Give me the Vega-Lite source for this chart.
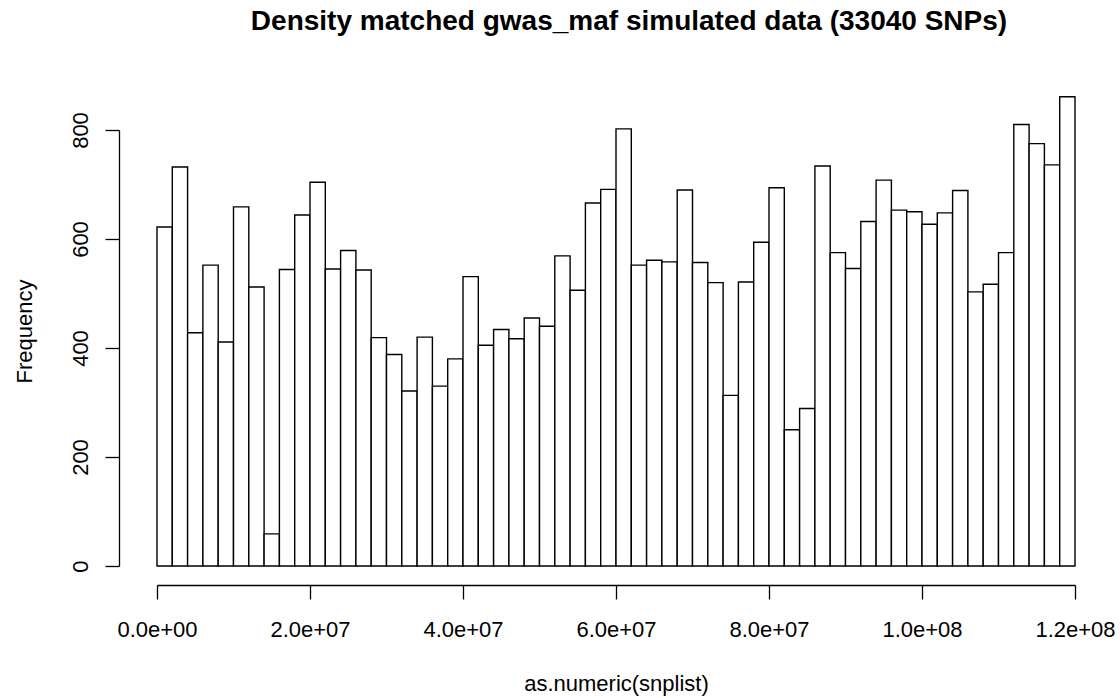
{
  "$schema": "https://vega.github.io/schema/vega-lite/v6.json",
  "width": 918,
  "height": 436,
  "autosize": {"type": "none"},
  "padding": {"left": 157, "top": 130, "right": 45, "bottom": 132},
  "background": "white",
  "title": {
    "text": "Density matched gwas_maf simulated data (33040 SNPs)",
    "font": "Liberation Sans",
    "fontSize": 28,
    "fontWeight": "bold",
    "color": "black",
    "anchor": "middle",
    "baseline": "alphabetic",
    "offset": 38,
    "dx": 13
  },
  "data": {
    "values": [
      {"start": 0, "end": 2000000, "count": 622},
      {"start": 2000000, "end": 4000000, "count": 732},
      {"start": 4000000, "end": 6000000, "count": 428},
      {"start": 6000000, "end": 8000000, "count": 552},
      {"start": 8000000, "end": 10000000, "count": 411},
      {"start": 10000000, "end": 12000000, "count": 659},
      {"start": 12000000, "end": 14000000, "count": 512},
      {"start": 14000000, "end": 16000000, "count": 59},
      {"start": 16000000, "end": 18000000, "count": 544},
      {"start": 18000000, "end": 20000000, "count": 644},
      {"start": 20000000, "end": 22000000, "count": 704},
      {"start": 22000000, "end": 24000000, "count": 545},
      {"start": 24000000, "end": 26000000, "count": 579},
      {"start": 26000000, "end": 28000000, "count": 543},
      {"start": 28000000, "end": 30000000, "count": 419},
      {"start": 30000000, "end": 32000000, "count": 388},
      {"start": 32000000, "end": 34000000, "count": 321},
      {"start": 34000000, "end": 36000000, "count": 420},
      {"start": 36000000, "end": 38000000, "count": 330},
      {"start": 38000000, "end": 40000000, "count": 380},
      {"start": 40000000, "end": 42000000, "count": 531},
      {"start": 42000000, "end": 44000000, "count": 405},
      {"start": 44000000, "end": 46000000, "count": 434},
      {"start": 46000000, "end": 48000000, "count": 417},
      {"start": 48000000, "end": 50000000, "count": 455},
      {"start": 50000000, "end": 52000000, "count": 440},
      {"start": 52000000, "end": 54000000, "count": 569},
      {"start": 54000000, "end": 56000000, "count": 506},
      {"start": 56000000, "end": 58000000, "count": 666},
      {"start": 58000000, "end": 60000000, "count": 691},
      {"start": 60000000, "end": 62000000, "count": 802},
      {"start": 62000000, "end": 64000000, "count": 552},
      {"start": 64000000, "end": 66000000, "count": 561},
      {"start": 66000000, "end": 68000000, "count": 558},
      {"start": 68000000, "end": 70000000, "count": 690},
      {"start": 70000000, "end": 72000000, "count": 557},
      {"start": 72000000, "end": 74000000, "count": 520},
      {"start": 74000000, "end": 76000000, "count": 313},
      {"start": 76000000, "end": 78000000, "count": 521},
      {"start": 78000000, "end": 80000000, "count": 594},
      {"start": 80000000, "end": 82000000, "count": 694},
      {"start": 82000000, "end": 84000000, "count": 250},
      {"start": 84000000, "end": 86000000, "count": 289},
      {"start": 86000000, "end": 88000000, "count": 734},
      {"start": 88000000, "end": 90000000, "count": 575},
      {"start": 90000000, "end": 92000000, "count": 546},
      {"start": 92000000, "end": 94000000, "count": 632},
      {"start": 94000000, "end": 96000000, "count": 708},
      {"start": 96000000, "end": 98000000, "count": 653},
      {"start": 98000000, "end": 100000000, "count": 650},
      {"start": 100000000, "end": 102000000, "count": 627},
      {"start": 102000000, "end": 104000000, "count": 648},
      {"start": 104000000, "end": 106000000, "count": 689},
      {"start": 106000000, "end": 108000000, "count": 503},
      {"start": 108000000, "end": 110000000, "count": 517},
      {"start": 110000000, "end": 112000000, "count": 575},
      {"start": 112000000, "end": 114000000, "count": 810},
      {"start": 114000000, "end": 116000000, "count": 775},
      {"start": 116000000, "end": 118000000, "count": 736},
      {"start": 118000000, "end": 120000000, "count": 861}
    ]
  },
  "mark": {
    "type": "bar",
    "fill": "white",
    "stroke": "black",
    "strokeWidth": 1.4,
    "opacity": 1
  },
  "encoding": {
    "x": {
      "field": "start",
      "type": "quantitative",
      "scale": {"domain": [0, 120000000], "nice": false, "zero": false},
      "axis": {
        "title": "as.numeric(snplist)",
        "values": [0, 20000000, 40000000, 60000000, 80000000, 100000000, 120000000],
        "labelExpr": "replace(format(datum.value, '.1e'), 'e+', 'e+0')",
        "offset": 19,
        "grid": false,
        "domainColor": "black",
        "domainWidth": 1.3,
        "tickColor": "black",
        "tickWidth": 1.3,
        "tickSize": 14,
        "labelFont": "Liberation Sans",
        "labelFontSize": 22,
        "labelColor": "black",
        "labelPadding": 20,
        "labelFlush": false,
        "labelOverlap": false,
        "titleFont": "Liberation Sans",
        "titleFontSize": 22,
        "titleFontWeight": "normal",
        "titleColor": "black",
        "titleBaseline": "alphabetic",
        "titleY": 105
      }
    },
    "x2": {"field": "end"},
    "y": {
      "field": "count",
      "type": "quantitative",
      "scale": {"domain": [0, 800], "nice": false},
      "axis": {
        "title": "Frequency",
        "values": [0, 200, 400, 600, 800],
        "offset": 38,
        "grid": false,
        "domainColor": "black",
        "domainWidth": 1.3,
        "tickColor": "black",
        "tickWidth": 1.3,
        "tickSize": 14,
        "labelAngle": 270,
        "labelAlign": "center",
        "labelBaseline": "alphabetic",
        "labelFont": "Liberation Sans",
        "labelFontSize": 22,
        "labelColor": "black",
        "labelPadding": 18,
        "labelFlush": false,
        "labelOverlap": false,
        "titleFont": "Liberation Sans",
        "titleFontSize": 22,
        "titleFontWeight": "normal",
        "titleColor": "black",
        "titleAngle": 270,
        "titleAlign": "center",
        "titleBaseline": "alphabetic",
        "titleX": -88,
        "titleY": 201
      }
    },
    "y2": {"datum": 0}
  },
  "config": {
    "view": {"stroke": null}
  }
}
